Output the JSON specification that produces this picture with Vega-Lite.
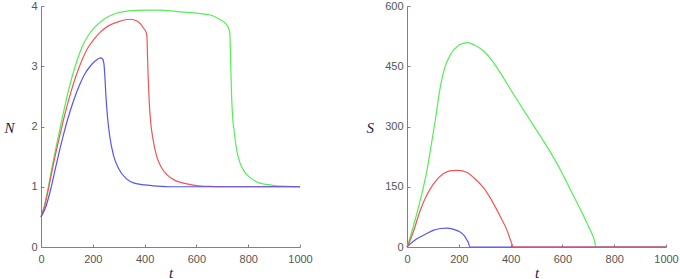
{
  "$schema": "https://vega.github.io/schema/vega-lite/v6.json",
  "background": "white",
  "padding": {"left": 4, "top": 0, "right": 0, "bottom": 0},
  "spacing": 107,
  "bounds": "flush",
  "config": {
    "view": {"stroke": null},
    "axis": {
      "grid": false,
      "domainColor": "#808080",
      "tickColor": "#808080",
      "tickSize": -3,
      "labelFont": "Liberation Sans",
      "labelFontSize": 11,
      "labelColor": "#555555",
      "labelFlush": false,
      "titleFont": "Liberation Serif",
      "titleFontStyle": "italic",
      "titleFontWeight": "normal",
      "titleFontSize": 15,
      "titleColor": "#1f2040"
    }
  },
  "datasets": {
    "N": [
      {"s": "g", "t": 0, "v": 0.5}, {"s": "g", "t": 13, "v": 0.68}, {"s": "g", "t": 26, "v": 0.95}, {"s": "g", "t": 45, "v": 1.38}, {"s": "g", "t": 65, "v": 1.8}, {"s": "g", "t": 85, "v": 2.2}, {"s": "g", "t": 105, "v": 2.58}, {"s": "g", "t": 125, "v": 2.9}, {"s": "g", "t": 145, "v": 3.17}, {"s": "g", "t": 165, "v": 3.38}, {"s": "g", "t": 190, "v": 3.56}, {"s": "g", "t": 220, "v": 3.7}, {"s": "g", "t": 250, "v": 3.8}, {"s": "g", "t": 290, "v": 3.88}, {"s": "g", "t": 340, "v": 3.92}, {"s": "g", "t": 400, "v": 3.93}, {"s": "g", "t": 460, "v": 3.93}, {"s": "g", "t": 520, "v": 3.91}, {"s": "g", "t": 580, "v": 3.89}, {"s": "g", "t": 654, "v": 3.85}, {"s": "g", "t": 692, "v": 3.77}, {"s": "g", "t": 710, "v": 3.72}, {"s": "g", "t": 718, "v": 3.68}, {"s": "g", "t": 725, "v": 3.62}, {"s": "g", "t": 729, "v": 3.55}, {"s": "g", "t": 731, "v": 3.3}, {"s": "g", "t": 733, "v": 2.95}, {"s": "g", "t": 736, "v": 2.5}, {"s": "g", "t": 740, "v": 2.15}, {"s": "g", "t": 745, "v": 1.95}, {"s": "g", "t": 756, "v": 1.6}, {"s": "g", "t": 768, "v": 1.4}, {"s": "g", "t": 781, "v": 1.28}, {"s": "g", "t": 800, "v": 1.18}, {"s": "g", "t": 820, "v": 1.11}, {"s": "g", "t": 845, "v": 1.06}, {"s": "g", "t": 871, "v": 1.04}, {"s": "g", "t": 900, "v": 1.02}, {"s": "g", "t": 936, "v": 1.01}, {"s": "g", "t": 1000, "v": 1.0},
      {"s": "r", "t": 0, "v": 0.5}, {"s": "r", "t": 14, "v": 0.68}, {"s": "r", "t": 29, "v": 0.97}, {"s": "r", "t": 48, "v": 1.38}, {"s": "r", "t": 70, "v": 1.8}, {"s": "r", "t": 92, "v": 2.2}, {"s": "r", "t": 114, "v": 2.55}, {"s": "r", "t": 136, "v": 2.85}, {"s": "r", "t": 158, "v": 3.1}, {"s": "r", "t": 180, "v": 3.3}, {"s": "r", "t": 205, "v": 3.45}, {"s": "r", "t": 230, "v": 3.57}, {"s": "r", "t": 260, "v": 3.67}, {"s": "r", "t": 300, "v": 3.74}, {"s": "r", "t": 345, "v": 3.78}, {"s": "r", "t": 370, "v": 3.75}, {"s": "r", "t": 385, "v": 3.7}, {"s": "r", "t": 396, "v": 3.63}, {"s": "r", "t": 405, "v": 3.57}, {"s": "r", "t": 409, "v": 3.5}, {"s": "r", "t": 411, "v": 3.2}, {"s": "r", "t": 414, "v": 2.8}, {"s": "r", "t": 418, "v": 2.4}, {"s": "r", "t": 424, "v": 2.05}, {"s": "r", "t": 432, "v": 1.8}, {"s": "r", "t": 447, "v": 1.5}, {"s": "r", "t": 465, "v": 1.32}, {"s": "r", "t": 486, "v": 1.2}, {"s": "r", "t": 515, "v": 1.11}, {"s": "r", "t": 550, "v": 1.06}, {"s": "r", "t": 600, "v": 1.02}, {"s": "r", "t": 650, "v": 1.005}, {"s": "r", "t": 700, "v": 1.0}, {"s": "r", "t": 1000, "v": 1.0},
      {"s": "b", "t": 0, "v": 0.5}, {"s": "b", "t": 18, "v": 0.66}, {"s": "b", "t": 37, "v": 0.95}, {"s": "b", "t": 57, "v": 1.33}, {"s": "b", "t": 80, "v": 1.75}, {"s": "b", "t": 103, "v": 2.12}, {"s": "b", "t": 125, "v": 2.42}, {"s": "b", "t": 148, "v": 2.68}, {"s": "b", "t": 170, "v": 2.88}, {"s": "b", "t": 190, "v": 3.0}, {"s": "b", "t": 210, "v": 3.09}, {"s": "b", "t": 229, "v": 3.14}, {"s": "b", "t": 238, "v": 3.12}, {"s": "b", "t": 243, "v": 3.04}, {"s": "b", "t": 247, "v": 2.8}, {"s": "b", "t": 251, "v": 2.48}, {"s": "b", "t": 257, "v": 2.15}, {"s": "b", "t": 265, "v": 1.85}, {"s": "b", "t": 280, "v": 1.52}, {"s": "b", "t": 300, "v": 1.3}, {"s": "b", "t": 330, "v": 1.13}, {"s": "b", "t": 360, "v": 1.06}, {"s": "b", "t": 400, "v": 1.03}, {"s": "b", "t": 450, "v": 1.01}, {"s": "b", "t": 500, "v": 1.0}, {"s": "b", "t": 1000, "v": 1.0}
    ],
    "S": [
      {"s": "g", "t": 0, "v": 0}, {"s": "g", "t": 13, "v": 25}, {"s": "g", "t": 26, "v": 55}, {"s": "g", "t": 51, "v": 116}, {"s": "g", "t": 77, "v": 191}, {"s": "g", "t": 90, "v": 240}, {"s": "g", "t": 109, "v": 315}, {"s": "g", "t": 129, "v": 400}, {"s": "g", "t": 145, "v": 445}, {"s": "g", "t": 167, "v": 478}, {"s": "g", "t": 200, "v": 502}, {"s": "g", "t": 232, "v": 509}, {"s": "g", "t": 260, "v": 503}, {"s": "g", "t": 296, "v": 488}, {"s": "g", "t": 330, "v": 463}, {"s": "g", "t": 360, "v": 434}, {"s": "g", "t": 400, "v": 392}, {"s": "g", "t": 440, "v": 351}, {"s": "g", "t": 476, "v": 315}, {"s": "g", "t": 503, "v": 288}, {"s": "g", "t": 550, "v": 240}, {"s": "g", "t": 590, "v": 195}, {"s": "g", "t": 619, "v": 158}, {"s": "g", "t": 650, "v": 118}, {"s": "g", "t": 680, "v": 80}, {"s": "g", "t": 700, "v": 52}, {"s": "g", "t": 715, "v": 32}, {"s": "g", "t": 724, "v": 15}, {"s": "g", "t": 729, "v": 0}, {"s": "g", "t": 1000, "v": 0},
      {"s": "b", "t": 0, "v": 0}, {"s": "b", "t": 13, "v": 8}, {"s": "b", "t": 30, "v": 17}, {"s": "b", "t": 51, "v": 25}, {"s": "b", "t": 75, "v": 33}, {"s": "b", "t": 103, "v": 42}, {"s": "b", "t": 130, "v": 46}, {"s": "b", "t": 154, "v": 47}, {"s": "b", "t": 180, "v": 44}, {"s": "b", "t": 206, "v": 37}, {"s": "b", "t": 220, "v": 29}, {"s": "b", "t": 232, "v": 17}, {"s": "b", "t": 238, "v": 9}, {"s": "b", "t": 242, "v": 0}, {"s": "b", "t": 1000, "v": 0},
      {"s": "r", "t": 0, "v": 0}, {"s": "r", "t": 13, "v": 18}, {"s": "r", "t": 26, "v": 41}, {"s": "r", "t": 51, "v": 91}, {"s": "r", "t": 77, "v": 130}, {"s": "r", "t": 103, "v": 158}, {"s": "r", "t": 141, "v": 183}, {"s": "r", "t": 170, "v": 190}, {"s": "r", "t": 199, "v": 191}, {"s": "r", "t": 230, "v": 186}, {"s": "r", "t": 257, "v": 173}, {"s": "r", "t": 296, "v": 147}, {"s": "r", "t": 334, "v": 108}, {"s": "r", "t": 360, "v": 76}, {"s": "r", "t": 386, "v": 42}, {"s": "r", "t": 399, "v": 18}, {"s": "r", "t": 406, "v": 6}, {"s": "r", "t": 409, "v": 0}, {"s": "r", "t": 1000, "v": 0}
    ]
  },
  "hconcat": [
    {
      "width": 259,
      "height": 241,
      "data": {"name": "N"},
      "mark": {"type": "line", "strokeWidth": 1.2, "interpolate": "monotone"},
      "encoding": {
        "x": {"field": "t", "type": "quantitative", "scale": {"domain": [0, 1000], "nice": false},
              "axis": {"values": [0, 200, 400, 600, 800, 1000], "format": "d", "labelPadding": 9, "title": "t", "titleY": 30, "titleBaseline": "alphabetic"}},
        "y": {"field": "v", "type": "quantitative", "scale": {"domain": [0, 4], "nice": false},
              "axis": {"values": [0, 1, 2, 3, 4], "format": "d", "labelPadding": 7, "title": "N", "titleAngle": 0, "titleX": -37, "titleY": 121, "titleAlign": "left", "titleBaseline": "middle"}},
        "color": {"field": "s", "type": "nominal", "legend": null,
                  "scale": {"domain": ["g", "r", "b"], "range": ["#55ee55", "#f05555", "#5555f0"]}},
        "order": {"field": "t", "type": "quantitative"}
      }
    },
    {
      "width": 259,
      "height": 241,
      "data": {"name": "S"},
      "mark": {"type": "line", "strokeWidth": 1.2, "interpolate": "monotone"},
      "encoding": {
        "x": {"field": "t", "type": "quantitative", "scale": {"domain": [0, 1000], "nice": false},
              "axis": {"values": [0, 200, 400, 600, 800, 1000], "format": "d", "labelPadding": 9, "title": "t", "titleY": 30, "titleBaseline": "alphabetic"}},
        "y": {"field": "v", "type": "quantitative", "scale": {"domain": [0, 600], "nice": false},
              "axis": {"values": [0, 150, 300, 450, 600], "format": "d", "labelPadding": 7, "title": "S", "titleAngle": 0, "titleX": -41, "titleY": 121, "titleAlign": "left", "titleBaseline": "middle"}},
        "color": {"field": "s", "type": "nominal", "legend": null,
                  "scale": {"domain": ["g", "b", "r"], "range": ["#55ee55", "#5555f0", "#f05555"]}},
        "order": {"field": "t", "type": "quantitative"}
      }
    }
  ],
  "resolve": {"scale": {"color": "independent"}}
}
